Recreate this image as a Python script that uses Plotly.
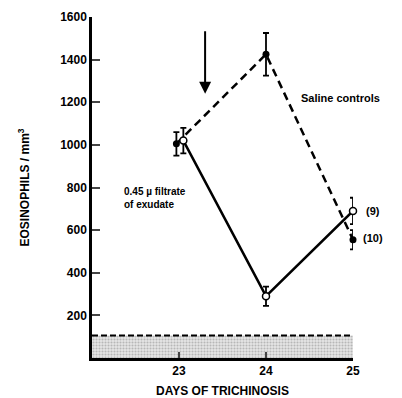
import plotly.graph_objects as go

days = [23, 24, 25]
saline_vals = [1005, 1425, 555]
saline_err = [55, 100, 45]
filtrate_vals = [1020, 290, 690]
filtrate_err = [60, 45, 62]
normal_upper = 105
y_ticks = [200, 400, 600, 800, 1000, 1200, 1400, 1600]
x_ticks = [23, 24, 25]

dodge_s = [-0.03, 0, 0]
dodge_f = [0.05, 0, 0]

FONT = "Liberation Sans"
fig = go.Figure()

# normal range band
fig.add_trace(go.Scatter(
    x=[22, 25], y=[normal_upper, normal_upper], mode="lines",
    line=dict(color="black", width=2, dash="6px,3px"),
    fill="tozeroy", fillcolor="rgba(200,200,200,0.9)",
    fillpattern=dict(shape=".", fgcolor="#888", bgcolor="#e6e6e6", size=3, solidity=0.4),
    hoverinfo="skip", showlegend=False))

fig.add_trace(go.Scatter(
    x=[d + o for d, o in zip(days, dodge_s)], y=saline_vals, mode="lines+markers",
    line=dict(color="black", width=2.5, dash="8px,5px"),
    marker=dict(symbol="circle", size=7, color="black"),
    error_y=dict(type="data", array=saline_err, color="black", thickness=1.8, width=3),
    cliponaxis=False, showlegend=False))

fig.add_trace(go.Scatter(
    x=[d + o for d, o in zip(days, dodge_f)], y=filtrate_vals, mode="lines+markers",
    line=dict(color="black", width=2.5),
    marker=dict(symbol="circle", size=7, color="white", line=dict(color="black", width=1.5)),
    error_y=dict(type="data", array=filtrate_err, color="black", thickness=1.8, width=3),
    cliponaxis=False, showlegend=False))

# arrow
fig.add_annotation(x=23.3, y=1240, ax=23.3, ay=1540, xref="x", yref="y", axref="x", ayref="y",
                   showarrow=True, arrowhead=2, arrowsize=1.2, arrowwidth=2, arrowcolor="black", text="")

tfont = dict(family=FONT, size=11, color="black", weight="bold")
fig.add_annotation(x=24.38, y=1220, text="Saline controls", showarrow=False, xanchor="left", font=tfont)
fig.add_annotation(x=22.35, y=750, text="0.45 µ filtrate<br>of exudate", showarrow=False,
                   xanchor="left", align="left", font=dict(family=FONT, size=10, color="black", weight="bold"))
fig.add_annotation(x=1.042, xref="paper", y=690, text="(9)", showarrow=False, xanchor="left", font=tfont)
fig.add_annotation(x=1.032, xref="paper", y=563, text="(10)", showarrow=False, xanchor="left", font=tfont)

fig.update_layout(
    width=394, height=390, margin=dict(l=84, r=49, t=9, b=40),
    plot_bgcolor="white", paper_bgcolor="white",
    font=dict(family=FONT, size=12, color="black", weight="bold"),
    xaxis=dict(range=[22, 25], tickvals=x_ticks, ticks="inside", ticklen=6, tickwidth=2,
               showline=True, linecolor="black", linewidth=2.5, showgrid=False, zeroline=False,
               automargin=False,
               title=dict(text="DAYS OF TRICHINOSIS", font=dict(size=12), standoff=10),
               tickfont=dict(size=12)),
    yaxis=dict(range=[0, 1600], tickvals=y_ticks, ticks="inside", ticklen=8, tickwidth=2,
               showline=True, linecolor="black", linewidth=2.5, showgrid=False, zeroline=False,
               automargin=False,
               title=dict(text="EOSINOPHILS / mm<sup>3</sup>", font=dict(size=12), standoff=28),
               tickfont=dict(size=12)),
)
fig.write_html("out.html")
